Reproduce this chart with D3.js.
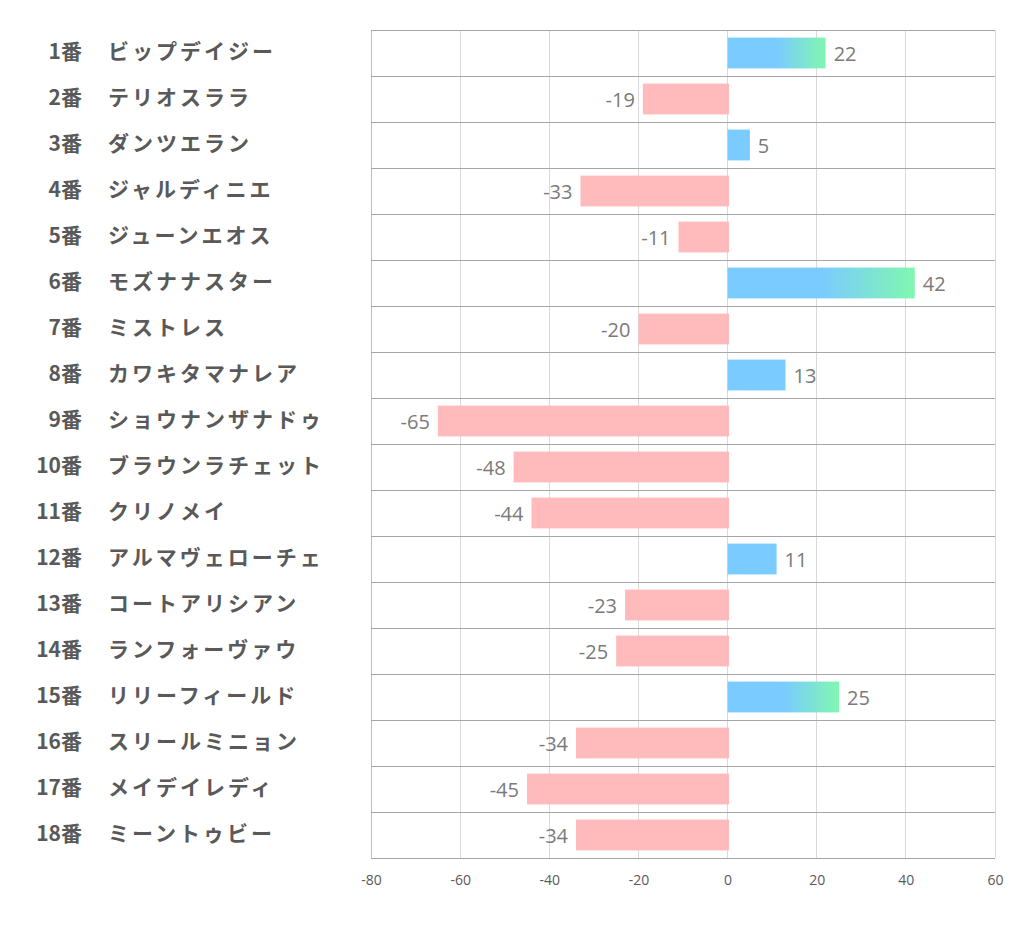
<!DOCTYPE html>
<html><head><meta charset="utf-8">
<script src="https://cdn.jsdelivr.net/npm/d3@7"></script>
<style>body{margin:0;background:#fff;}svg{display:block;}</style>
</head><body>
<svg id="c" width="1022" height="939"></svg>
<script>
const numbers = ["1番","2番","3番","4番","5番","6番","7番","8番","9番","10番","11番","12番","13番","14番","15番","16番","17番","18番"];
const names = ["ビップデイジー","テリオスララ","ダンツエラン","ジャルディニエ","ジューンエオス","モズナナスター","ミストレス","カワキタマナレア","ショウナンザナドゥ","ブラウンラチェット","クリノメイ","アルマヴェローチェ","コートアリシアン","ランフォーヴァウ","リリーフィールド","スリールミニョン","メイデイレディ","ミーントゥビー"];
const values = [22,-19,5,-33,-11,42,-20,13,-65,-48,-44,11,-23,-25,25,-34,-45,-34];
const xTicks = [-80,-60,-40,-20,0,20,40,60];

const svg = d3.select("#c");
const L=371,R=995,T=30,B=858;
const x = d3.scaleLinear().domain([-80,60]).range([L,R]);
const y = d3.scaleBand().domain(d3.range(values.length)).range([T,B]).paddingInner(0.33).paddingOuter(0.165);
const rows = d3.scaleBand().domain(d3.range(values.length)).range([T,B]);

svg.append("g").selectAll("line").data(xTicks).join("line")
  .attr("x1",d=>x(d)).attr("x2",d=>x(d)).attr("y1",T).attr("y2",B)
  .attr("stroke","#d9d9d9").attr("stroke-width",1).attr("shape-rendering","crispEdges");
svg.append("line").attr("x1",L).attr("x2",L).attr("y1",T).attr("y2",B).attr("stroke","#bfbfbf").attr("shape-rendering","crispEdges");
svg.append("g").selectAll("line").data(d3.range(values.length+1)).join("line")
  .attr("x1",L).attr("x2",R)
  .attr("y1",i=>i<values.length?rows(i):B).attr("y2",i=>i<values.length?rows(i):B)
  .attr("stroke","#a6a6a6").attr("stroke-width",1).attr("shape-rendering","crispEdges");

const defs = svg.append("defs");
values.forEach((v,i)=>{
  if(v>=20){
    const g = defs.append("linearGradient").attr("id","g"+i).attr("x1","0%").attr("x2","100%").attr("y1","0%").attr("y2","0%");
    g.append("stop").attr("offset","50%").attr("stop-color","#7acbff");
    g.append("stop").attr("offset","100%").attr("stop-color","#80f7b0");
  }
});

svg.append("g").selectAll("rect").data(values).join("rect")
  .attr("x",d=>d>=0?x(0):x(d))
  .attr("width",d=>Math.abs(x(d)-x(0)) + (d<0?1.5:0))
  .attr("y",(d,i)=>y(i)).attr("height",y.bandwidth())
  .attr("fill",(d,i)=>d>=20?`url(#g${i})`:(d>=0?"#7acbff":"#ffbbbb"));

svg.append("g").selectAll("text").data(values).join("text")
  .attr("x",d=>d>=0?x(d)+8:x(d)-8)
  .attr("y",(d,i)=>rows(i)+rows.bandwidth()/2+2.5)
  .attr("text-anchor",d=>d>=0?"start":"end")
  .attr("dominant-baseline","middle")
  .attr("font-family","'Open Sans','Noto Sans',sans-serif").attr("font-size",20).attr("fill","#7a7a7a")
  .text(d=>d);

svg.append("g").selectAll("text").data(numbers).join("text")
  .attr("x",82).attr("y",(d,i)=>rows(i)+rows.bandwidth()/2)
  .attr("text-anchor","end").attr("dominant-baseline","middle")
  .attr("font-family","'Noto Sans CJK JP',sans-serif").attr("font-weight","bold").attr("font-size",21).attr("fill","#595959")
  .text(d=>d);
svg.append("g").selectAll("text").data(names).join("text")
  .attr("x",108).attr("y",(d,i)=>rows(i)+rows.bandwidth()/2)
  .attr("text-anchor","start").attr("dominant-baseline","middle")
  .attr("font-family","'Noto Sans CJK JP',sans-serif").attr("font-weight","bold").attr("font-size",21).attr("letter-spacing","3px").attr("fill","#595959")
  .text(d=>d);

const ax = svg.append("g").attr("transform",`translate(0,${B})`).call(d3.axisBottom(x).tickValues(xTicks).tickFormat(d=>String(d)).tickSize(0).tickPadding(17));
ax.select(".domain").remove();
ax.selectAll("text").attr("font-family","'Open Sans','Noto Sans',sans-serif").attr("font-size",14).attr("fill","#595959");
</script>
</body></html>
